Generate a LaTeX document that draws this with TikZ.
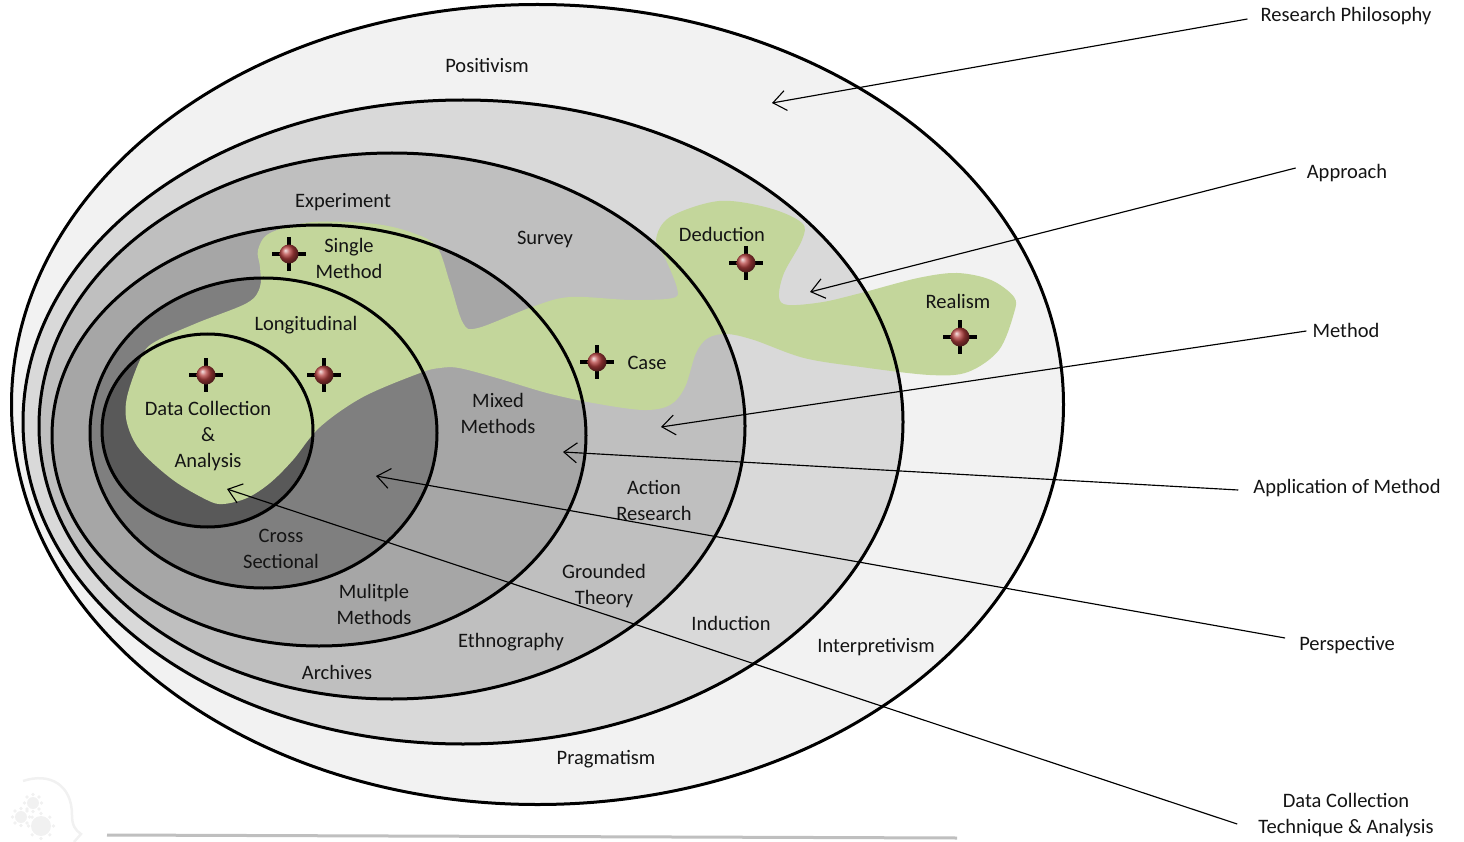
\documentclass[tikz,border=0pt]{standalone}
\usepackage{fontspec}
\setmainfont{Carlito}
\usetikzlibrary{arrows.meta}
\definecolor{ringa}{HTML}{F2F2F2}
\definecolor{ringb}{HTML}{D9D9D9}
\definecolor{ringc}{HTML}{BFBFBF}
\definecolor{ringd}{HTML}{A6A6A6}
\definecolor{ringe}{HTML}{7F7F7F}
\definecolor{ringf}{HTML}{595959}
\definecolor{blobgreen}{HTML}{C3D69B}
\definecolor{ballred}{HTML}{B5403F}
\definecolor{balllite}{HTML}{D87070}
\definecolor{ghost}{HTML}{F1F1F1}
\tikzset{
  x=1pt,y=-1pt,
  ringline/.style={draw=black,line width=3pt},
  txt/.style={font=\fontsize{20.5}{26}\selectfont,align=center,inner sep=0pt,text=black!92},
  lbl/.style={txt,anchor=center},
  conn/.style={draw=black,line width=1.15pt,-{Straight Barb[length=13pt,width=20pt,line width=1.1pt]}},
  armline/.style={draw=black,line width=4pt},
  ball/.style={circle,minimum size=19pt,inner sep=0pt,ball color=ballred},
}
\newcommand{\marker}[3]{%
  \draw[armline] (#2-17,#3) -- (#2+17,#3);
  \draw[armline] (#2,#3-17) -- (#2,#3+17);
  \node[ball] (#1) at (#2,#3) {};
}
\newcommand{\gearshape}[3]{%
  \fill[ghost] (#1,#2) circle (#3);
  \foreach \a in {0,45,...,315}{\fill[ghost] (#1,#2) ++(\a:#3+2.5) circle (1.8);}
}
\begin{document}
\begin{tikzpicture}
\useasboundingbox (0,0) rectangle (1464,842);
% ring fills
\fill[ringa] (537.5,404.5) ellipse [x radius=526,y radius=400];
\fill[ringb] (463,422) ellipse [x radius=440,y radius=322];
\fill[ringc] (392,426) ellipse [x radius=353,y radius=273];
\fill[ringd] (319,435.5) ellipse [x radius=267,y radius=210.5];
\fill[ringe] (263.5,433) ellipse [x radius=173.5,y radius=155];
\fill[ringf] (207.5,430.5) ellipse [x radius=105.5,y radius=96.5];
% green region
\fill[blobgreen] plot[smooth cycle,tension=0.55] coordinates {
 (258,250) (270,233) (313,222) (375,224) (413,233) (437,247) (450,283) (463,323) (478,328)
 (532,307) (570,297) (631,300) (673,298) (677,288) (666,260) (656,240) (670,217)
 (719,201) (769,208) (802,223) (802,240) (784,273) (779,297) (788,305) (823,302)
 (861,293) (918,278) (957,273) (991,280) (1014,297) (1014,313) (999,350) (968,372)
 (930,375) (861,367) (804,358) (754,340) (727,334) (708,338) (696,353) (685,387)
 (670,405) (643,410) (593,403) (547,393) (497,378) (459,368) (440,368) (420,373)
 (363,397) (320,427) (293,460) (270,483) (247,498) (223,504) (207,500) (173,480)
 (140,450) (127,423) (127,397) (140,360) (153,343) (197,323) (247,303) (260,287) (260,267)
};
% ring outlines
\draw[ringline] (537.5,404.5) ellipse [x radius=526,y radius=400];
\draw[ringline] (463,422) ellipse [x radius=440,y radius=322];
\draw[ringline] (392,426) ellipse [x radius=353,y radius=273];
\draw[ringline] (319,435.5) ellipse [x radius=267,y radius=210.5];
\draw[ringline] (263.5,433) ellipse [x radius=173.5,y radius=155];
\draw[ringline] (207.5,430.5) ellipse [x radius=105.5,y radius=96.5];
% markers
\marker{ma}{289}{254}
\marker{mb}{206}{375}
\marker{mc}{324}{375}
\marker{md}{597}{362}
\marker{me}{746}{263}
\marker{mf}{960}{337}
% labels inside
\node[lbl] (positivism) at (487,65) {Positivism};
\node[lbl] (experiment) at (343,202) {Experiment};
\node[lbl] (survey) at (545,240) {Survey};
\node[lbl] (deduction) at (722,234) {Deduction};
\node[lbl] (realism) at (958,301) {Realism};
\node[lbl] (single) at (349,258) {Single\\Method};
\node[lbl] (longitudinal) at (306,325) {Longitudinal};
\node[lbl] (case) at (647,363) {Case};
\node[lbl] (mixed) at (498,413) {Mixed\\Methods};
\node[lbl] (dca) at (208,436) {Data Collection\\\&\\Analysis};
\node[lbl] (action) at (654,500) {Action\\Research};
\node[lbl] (cross) at (281,549) {Cross\\Sectional};
\node[lbl] (grounded) at (604,586) {Grounded\\Theory};
\node[lbl] (multiple) at (374,604) {Mulitple\\Methods};
\node[lbl] (ethno) at (511,642) {Ethnography};
\node[lbl] (induction) at (731,623) {Induction};
\node[lbl] (interp) at (876,647) {Interpretivism};
\node[lbl] (archives) at (337,672) {Archives};
\node[lbl] (pragmatism) at (606,759) {Pragmatism};
% side labels
\node[lbl] (l1) at (1346,16) {Research Philosophy};
\node[lbl] (l2) at (1347,173) {Approach};
\node[lbl] (l3) at (1346,330) {Method};
\node[lbl] (l4) at (1347,488) {Application of Method};
\node[lbl] (l5) at (1347,645) {Perspective};
\node[lbl] (l6) at (1346,815) {Data Collection\\Technique \& Analysis};
% free ends
\coordinate (t1) at (772,103);
\coordinate (t2) at (810,292);
\coordinate (t3) at (661,427);
\coordinate (t4) at (563,452);
\coordinate (t5) at (376,476);
\coordinate (t6) at (227,489);
\draw[conn] ([shift={(-13pt,-3pt)}]l1.west) -- (t1);
\draw[conn] ([shift={(-11pt,5pt)}]l2.west) -- (t2);
\draw[conn] ([shift={(-6pt,-1pt)}]l3.west) -- (t3);
\draw[conn] ([shift={(-15pt,-2pt)}]l4.west) -- (t4);
\draw[conn] ([shift={(-14pt,7pt)}]l5.west) -- (t5);
\draw[conn] ([shift={(-21pt,-9pt)}]l6.west) -- (t6);
% bottom rule
\coordinate (ra) at (107,835);
\coordinate (rb) at (957,838);
\draw[draw=ringc,line width=3pt] (ra) -- (rb);
% faint watermark
\draw[ghost,line width=2.5pt] (23,781) .. controls (50,772) and (72,785) .. (72,815) .. controls (72,825) and (75,830) .. (81,834) -- (74,842);
\gearshape{33}{803}{6}
\gearshape{21}{817}{6}
\gearshape{41}{826}{10}
\end{tikzpicture}
\end{document}
